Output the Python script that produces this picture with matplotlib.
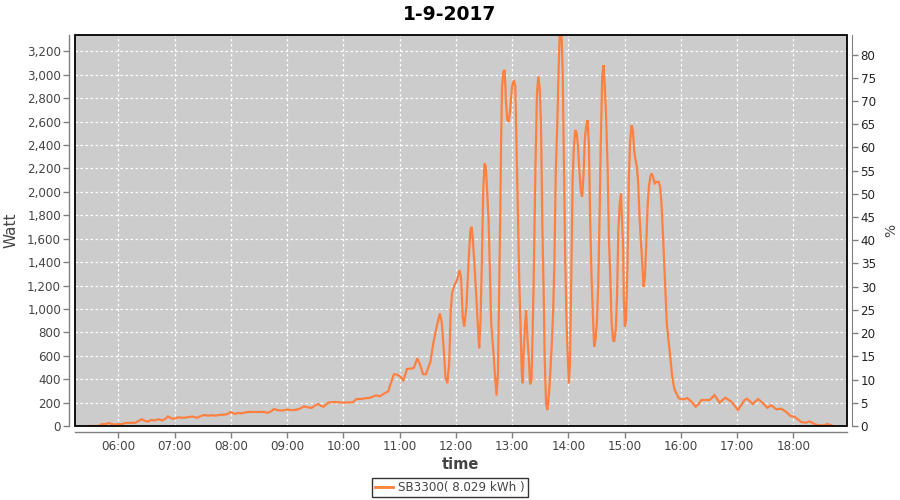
import matplotlib
matplotlib.use("Agg")
import matplotlib.pyplot as plt
import matplotlib.dates as mdates
from matplotlib.patches import Rectangle
from matplotlib.lines import Line2D
import pandas as pd

title = "1-9-2017"
series_name = "SB3300( 8.029 kWh )"
day = "2017-09-01 "

times = [
    "05:28:00", "05:35:00", "05:40:00", "05:42:00", "05:47:00", "05:50:00", "05:53:00", "05:57:00",
    "06:00:00", "06:04:00", "06:07:00", "06:12:00", "06:18:00", "06:21:00", "06:25:00", "06:29:00",
    "06:32:00", "06:35:00", "06:39:00", "06:43:00", "06:47:00", "06:50:00", "06:53:00", "06:57:00",
    "07:00:00", "07:04:00", "07:08:00", "07:12:00", "07:16:00", "07:20:00", "07:24:00", "07:28:00",
    "07:32:00", "07:36:00", "07:40:00", "07:44:00", "07:48:00", "07:52:00", "07:56:00", "08:00:00",
    "08:04:00", "08:08:00", "08:12:00", "08:16:00", "08:20:00", "08:30:00", "08:36:00", "08:39:00",
    "08:43:00", "08:46:00", "08:50:00", "08:55:00", "09:00:00", "09:06:00", "09:10:00", "09:13:00",
    "09:18:00", "09:22:00", "09:26:00", "09:30:00", "09:33:00", "09:36:00", "09:39:00", "09:44:00",
    "09:50:00", "10:00:00", "10:10:00", "10:14:00", "10:20:00", "10:25:00", "10:28:00", "10:35:00",
    "10:39:00", "10:44:00", "10:48:00", "10:50:00", "10:54:00", "10:57:00", "11:01:00", "11:04:00",
    "11:08:00", "11:12:00", "11:15:00", "11:19:00", "11:22:00", "11:25:00", "11:28:00", "11:33:00",
    "11:36:00", "11:40:00", "11:43:00", "11:45:00", "11:47:00", "11:49:00", "11:51:00", "11:53:00",
    "11:54:30", "11:56:00", "11:58:36", "12:01:24", "12:04:00", "12:05:42", "12:07:24", "12:09:00",
    "12:11:24", "12:13:30", "12:15:36", "12:17:00", "12:18:30", "12:20:18", "12:22:00", "12:24:00",
    "12:25:00", "12:26:24", "12:27:48", "12:29:18", "12:30:42", "12:32:00", "12:33:36", "12:35:00",
    "12:36:24", "12:37:48", "12:40:00", "12:41:42", "12:43:30", "12:45:00", "12:46:30", "12:47:30",
    "12:48:18", "12:49:18", "12:50:42", "12:52:12", "12:53:36", "12:55:00", "12:56:30", "12:58:00",
    "13:00:00", "13:02:00", "13:03:30", "13:05:00", "13:06:24", "13:07:48", "13:09:18", "13:10:24",
    "13:11:24", "13:12:30", "13:14:00", "13:15:00", "13:16:24", "13:18:00", "13:19:18", "13:20:48",
    "13:21:48", "13:23:00", "13:24:00", "13:25:00", "13:26:36", "13:28:00", "13:29:24", "13:30:54",
    "13:32:18", "13:33:42", "13:34:48", "13:36:18", "13:37:42", "13:39:30", "13:41:00", "13:42:18",
    "13:43:48", "13:45:12", "13:46:42", "13:48:12", "13:49:36", "13:51:00", "13:52:30", "13:54:00",
    "13:55:18", "13:56:48", "13:58:12", "13:59:42", "14:00:42", "14:01:48", "14:03:12", "14:04:36",
    "14:06:00", "14:07:30", "14:09:00", "14:10:24", "14:11:48", "14:13:18", "14:14:42", "14:16:12",
    "14:17:36", "14:19:00", "14:20:30", "14:22:00", "14:23:18", "14:24:48", "14:26:12", "14:27:36",
    "14:29:00", "14:30:30", "14:32:00", "14:33:24", "14:34:30", "14:36:12", "14:37:42", "14:39:00",
    "14:40:30", "14:42:00", "14:43:24", "14:44:48", "14:46:18", "14:47:42", "14:49:06", "14:50:36",
    "14:52:00", "14:53:24", "14:54:54", "14:56:18", "14:57:00", "14:58:30", "14:59:12", "15:00:18",
    "15:01:42", "15:03:12", "15:04:36", "15:06:00", "15:07:30", "15:08:54", "15:10:18", "15:11:42",
    "15:13:12", "15:14:36", "15:16:00", "15:17:30", "15:18:54", "15:20:18", "15:21:48", "15:23:12",
    "15:24:36", "15:26:00", "15:27:30", "15:28:54", "15:30:24", "15:32:12", "15:34:18", "15:36:24",
    "15:38:00", "15:39:24", "15:40:48", "15:42:18", "15:43:42", "15:45:06", "15:46:36", "15:48:00",
    "15:49:24", "15:50:54", "15:53:00", "15:55:12", "15:58:00", "16:00:48", "16:04:00", "16:07:00",
    "16:11:18", "16:15:54", "16:19:00", "16:22:00", "16:30:48", "16:36:00", "16:41:24", "16:47:30",
    "16:53:54", "17:01:00", "17:08:06", "17:10:36", "17:17:00", "17:22:24", "17:27:42", "17:32:18",
    "17:36:30", "17:41:54", "17:47:12", "17:52:30", "17:57:06", "18:01:24", "18:08:30", "18:13:48",
    "18:17:24", "18:22:42", "18:26:18", "18:33:24", "18:36:18", "18:40:30", "18:42:18",
]

watts = [
    0, 0, 2, 15, 18, 25, 18, 12,
    17, 15, 25, 27, 27, 40, 58, 42,
    38, 52, 48, 58, 48, 60, 82, 65,
    62, 75, 70, 72, 78, 80, 70, 85,
    94, 88, 92, 88, 95, 96, 100, 120,
    103, 112, 108, 118, 120, 120, 120, 112,
    125, 145, 135, 132, 140, 135, 140, 145,
    168, 160, 154, 175, 188, 172, 165, 200,
    205, 200, 202, 230, 232, 239, 240, 262,
    254, 279, 296, 350, 441, 440, 421, 390,
    487, 490, 493, 578, 521, 444, 441, 549,
    706, 862, 962, 890, 677, 421, 365, 535,
    962, 1133, 1204, 1247, 1332, 1261, 933, 848,
    1019, 1389, 1674, 1702, 1560, 1332, 1076, 792,
    664, 905, 1389, 2015, 2243, 2214, 1987, 1759,
    1332, 877, 649, 450, 260, 452, 1275, 1830,
    2385, 2898, 3026, 3040, 2756, 2613, 2599, 2699,
    2898, 2955, 2898, 2300, 1759, 1219, 763, 450,
    365, 649, 877, 991, 763, 564, 356, 393,
    734, 1190, 1702, 2214, 2841, 2984, 2898, 2585,
    1731, 1162, 592, 194, 137, 279, 478, 677,
    962, 1389, 2186, 2556, 3012, 3400, 3400, 3040,
    2243, 1389, 877, 535, 365, 535, 1247, 2101,
    2385, 2528, 2499, 2385, 2186, 2015, 1958, 2129,
    2442, 2556, 2613, 2414, 1787, 1275, 962, 677,
    734, 877, 1219, 1787, 2350, 2984, 3083, 2898,
    2613, 2186, 1588, 1275, 877, 734, 720, 820,
    1104, 1674, 1902, 1987, 1816, 1531, 1104, 848,
    905, 1389, 2101, 2442, 2570, 2528, 2357, 2271,
    2214, 2072, 1787, 1588, 1389, 1190, 1275, 1560,
    1873, 2044, 2129, 2158, 2129, 2072, 2086, 2086,
    2044, 1902, 1674, 1389, 1104, 877, 763, 649,
    535, 421, 322, 279, 237, 228, 230, 239,
    208, 165, 188, 222, 222, 265, 199, 242,
    208, 137, 222, 233, 188, 231, 194, 156,
    177, 143, 148, 120, 85, 79, 34, 28,
    40, 17, 6, 6, 17, 6, 0,
]

watt_ticks = list(range(0, 3201, 200))
pct_ticks = list(range(0, 81, 5))
hour_ticks = ["06:00", "07:00", "08:00", "09:00", "10:00", "11:00", "12:00",
              "13:00", "14:00", "15:00", "16:00", "17:00", "18:00"]
x_start, x_end = "05:13:50", "18:57:00"
watt_max = 3340
pct_max = 84.2

line_color = "#FF8040"
axis_grey = "#808080"
label_grey = "#444444"

t = pd.to_datetime([day + s for s in times])

fig = plt.figure(figsize=(9, 5), dpi=100)
ax = fig.add_axes([75 / 900, 74 / 500, (846.7 - 75) / 900, 391 / 500])
ax.set_facecolor("#CCCCCC")

ax.plot(t, watts, color=line_color, lw=1.6, solid_joinstyle="miter", zorder=3)

ax.set_xlim(pd.Timestamp(day + x_start), pd.Timestamp(day + x_end))
ax.set_ylim(0, watt_max)
ax.set_yticks(watt_ticks)
ax.set_yticklabels([f"{v:,}" for v in watt_ticks])
ax.set_xticks(pd.to_datetime([day + h for h in hour_ticks]))
ax.xaxis.set_major_formatter(mdates.DateFormatter("%H:%M"))

ax.grid(True, color="white", linestyle=(0, (2, 2)), linewidth=0.9)
ax.set_axisbelow(True)

for side in ["left", "bottom"]:
    ax.spines[side].set_position(("outward", 4))
    ax.spines[side].set_color(axis_grey)
    ax.spines[side].set_linewidth(1.0)
ax.spines["top"].set_visible(False)
ax.spines["right"].set_visible(False)
ax.tick_params(axis="both", colors=axis_grey, length=4, width=1, labelsize=8.6,
               labelcolor=label_grey, pad=2)

ax.add_patch(Rectangle((0, 0), 1, 1, transform=ax.transAxes, fill=False,
                       edgecolor="black", linewidth=1.3, zorder=5, clip_on=False))

ax2 = ax.twinx()
ax2.set_ylim(0, pct_max)
ax2.set_yticks(pct_ticks)
for side in ["left", "top", "bottom"]:
    ax2.spines[side].set_visible(False)
ax2.spines["right"].set_position(("outward", 4))
ax2.spines["right"].set_color(axis_grey)
ax2.tick_params(axis="y", colors=axis_grey, length=4, width=1, labelsize=8.6,
                labelcolor="#222222", pad=2)
ax2.set_ylabel("%", fontsize=10, color=label_grey, labelpad=6)

ax.set_ylabel("Watt", fontsize=11, color=label_grey, labelpad=6)
ax.set_xlabel("time", fontsize=10.5, fontweight="bold", color=label_grey, labelpad=3)
fig.text(0.5, 0.972, title, ha="center", va="center", fontsize=13.5, fontweight="bold")

handle = Line2D([], [], color=line_color, lw=2)
leg = fig.legend([handle], [series_name], loc="center", bbox_to_anchor=(0.5, 0.025),
                 frameon=True, fancybox=False, edgecolor="black", fontsize=8.6,
                 handlelength=1.5, handletextpad=0.4, borderpad=0.25, borderaxespad=0)
leg.get_frame().set_linewidth(1.0)
for txt in leg.get_texts():
    txt.set_color(label_grey)

fig.savefig("out.png", dpi=100)
